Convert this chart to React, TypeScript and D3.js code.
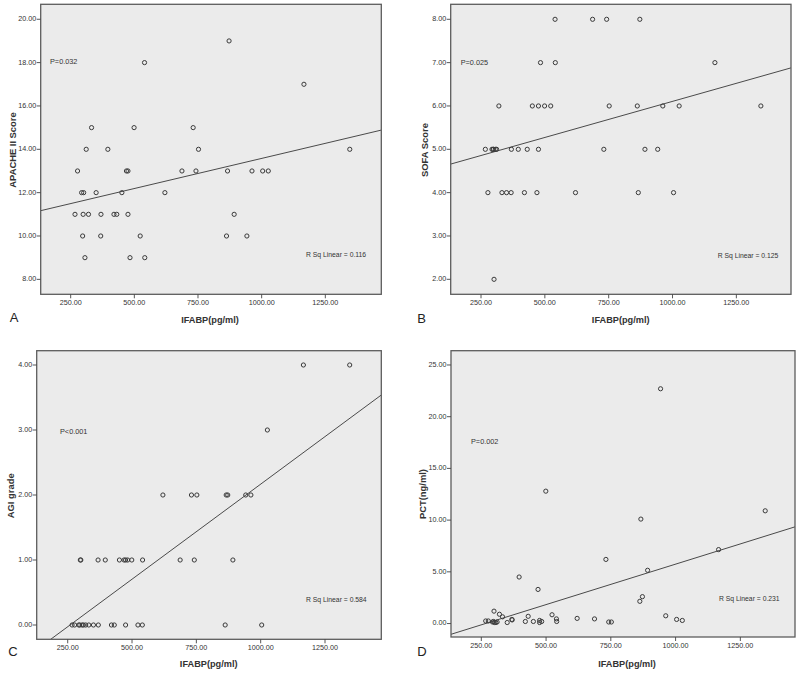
import React from "react";
import * as d3 from "d3";

// Shared predictor (IFABP, pg/ml) for 40 patients
const ifabp = [267, 277, 293, 297, 299, 301, 306, 311, 320, 332, 350, 368, 369, 396, 420, 431, 451, 469, 475, 475, 483, 499, 523, 540, 541, 620, 687, 731, 742, 752, 862, 866, 872, 892, 942, 962, 1004, 1026, 1166, 1346];
const apache = [11, 13, 12, 10, 11, 12, 9, 14, 11, 15, 12, 10, 11, 14, 11, 11, 12, 13, 13, 11, 9, 15, 10, 18, 9, 12, 13, 15, 13, 14, 10, 13, 19, 11, 10, 13, 13, 13, 17, 14];
const sofa = [5, 4, 5, 5, 5, 2, 5, 5, 6, 4, 4, 4, 5, 5, 4, 5, 6, 4, 6, 5, 7, 6, 6, 8, 7, 4, 8, 5, 8, 6, 6, 4, 8, 5, 5, 6, 4, 6, 7, 6];
const agi = [0, 0, 0, 0, 1, 1, 0, 0, 0, 0, 0, 1, 0, 1, 0, 0, 1, 1, 1, 0, 1, 1, 0, 0, 1, 2, 1, 2, 1, 2, 0, 2, 2, 1, 2, 2, 0, 3, 4, 4];
const pct = [0.25, 0.25, 0.15, 0.2, 1.2, 0.1, 0.1, 0.15, 0.9, 0.65, 0.1, 0.4, 0.35, 4.5, 0.2, 0.7, 0.2, 3.3, 0.3, 0.1, 0.2, 12.8, 0.85, 0.45, 0.2, 0.5, 0.45, 6.2, 0.15, 0.15, 2.15, 10.1, 2.6, 5.15, 22.7, 0.75, 0.4, 0.3, 7.15, 10.9];

const xTicks = [250, 500, 750, 1000, 1250];
const apacheTicks = [8, 10, 12, 14, 16, 18, 20];
const sofaTicks = [2, 3, 4, 5, 6, 7, 8];
const agiTicks = [0, 1, 2, 3, 4];
const pctTicks = [0, 5, 10, 15, 20, 25];

const panelLetters = ["A", "B", "C", "D"];
const yTitles = ["APACHE II Score", "SOFA Score", "AGI grade", "PCT(ng/ml)"];
const xTitle = "IFABP(pg/ml)";
const pTexts = ["P=0.032", "P=0.025", "P<0.001", "P=0.002"];
const rsqTexts = ["R Sq Linear = 0.116", "R Sq Linear = 0.125", "R Sq Linear = 0.584", "R Sq Linear = 0.231"];
// fitted line (intercept, slope)
const fitIntercepts = [10.8, 4.44, -0.758, -2.08];
const fitSlopes = [0.00278, 0.001666, 0.002925, 0.007824];

const seriesList = [apache, sofa, agi, pct];
const yTickList = [apacheTicks, sofaTicks, agiTicks, pctTicks];

// layout (frame rectangles and axis domains per panel)
const layout = [
  { l: 40.7, t: 4.3, r: 381.3, b: 294.3, xd: [132.3, 1469.8], yd: [7.31, 20.69], p: [50, 62.5], rs: [306, 255.5], yt: [13.5, 150], xt: [210, 320.5], let: [14, 318.5] },
  { l: 450.7, t: 4.3, r: 791, b: 294.3, xd: [131.3, 1464], yd: [1.654, 8.346], p: [460.7, 63.3], rs: [717.7, 256], yt: [426, 150], xt: [620.7, 320.5], let: [421.5, 319.5] },
  { l: 36.7, t: 350.7, r: 381.3, b: 639.3, xd: [129.5, 1468.8], yd: [-0.22, 4.22], p: [60, 431.7], rs: [306, 600], yt: [11.7, 495.8], xt: [208.7, 665], let: [13, 653] },
  { l: 451, t: 350.7, r: 795, b: 637, xd: [133, 1461], yd: [-1.3, 26.38], p: [471, 442], rs: [719, 599.3], yt: [423.3, 494], xt: [627, 665], let: [422, 653] },
];

const fmt = d3.format(".2f");
const FONT = "'Liberation Sans', Arial, sans-serif";

function Panel({ i }: { i: number }) {
  const L = layout[i];
  const x = d3.scaleLinear().domain(L.xd).range([L.l, L.r]);
  const y = d3.scaleLinear().domain(L.yd).range([L.b, L.t]);
  const ys = seriesList[i];
  const clipId = `clip-${i}`;
  const fit = (v: number) => fitIntercepts[i] + fitSlopes[i] * v;
  const lineGen = d3.line<number>().x((v) => x(v)).y((v) => y(fit(v)));
  return (
    <g>
      <defs>
        <clipPath id={clipId}>
          <rect x={L.l} y={L.t} width={L.r - L.l} height={L.b - L.t} />
        </clipPath>
      </defs>
      <rect x={L.l} y={L.t} width={L.r - L.l} height={L.b - L.t} fill="#ebebeb" stroke="none" />
      <g clipPath={`url(#${clipId})`}>
        <path d={lineGen(L.xd) || ""} stroke="#4a4a4a" strokeWidth={1} fill="none" />
        {ifabp.map((v, k) => (
          <circle key={k} cx={x(v)} cy={y(ys[k])} r={2.1} fill="none" stroke="#3a3a3a" strokeWidth={1} />
        ))}
      </g>
      <rect x={L.l} y={L.t} width={L.r - L.l} height={L.b - L.t} fill="none" stroke="#5c5c5c" strokeWidth={1.3} />
      {xTicks.map((t) => (
        <g key={t}>
          <line x1={x(t)} x2={x(t)} y1={L.b} y2={L.b + 4} stroke="#444" strokeWidth={0.9} />
          <text x={x(t)} y={L.b + 9} textAnchor="middle" dominantBaseline="middle" fontSize={7.2} fill="#333" fontFamily={FONT}>
            {fmt(t)}
          </text>
        </g>
      ))}
      {yTickList[i].map((t) => (
        <g key={t}>
          <line x1={L.l - 4} x2={L.l} y1={y(t)} y2={y(t)} stroke="#444" strokeWidth={0.9} />
          <text x={L.l - 4.5} y={y(t)} textAnchor="end" dominantBaseline="middle" fontSize={7.2} fill="#333" fontFamily={FONT}>
            {fmt(t)}
          </text>
        </g>
      ))}
      <text x={L.p[0]} y={L.p[1]} dominantBaseline="middle" fontSize={7.3} fill="#333" fontFamily={FONT}>
        {pTexts[i]}
      </text>
      <text x={L.rs[0]} y={L.rs[1]} dominantBaseline="middle" fontSize={6.8} fill="#333" fontFamily={FONT}>
        {rsqTexts[i]}
      </text>
      <text
        transform={`translate(${L.yt[0]},${L.yt[1]}) rotate(-90)`}
        textAnchor="middle"
        dominantBaseline="middle"
        fontSize={9.4}
        fontWeight="bold"
        fill="#333"
        fontFamily={FONT}
      >
        {yTitles[i]}
      </text>
      <text x={L.xt[0]} y={L.xt[1]} textAnchor="middle" dominantBaseline="middle" fontSize={9.2} fontWeight="bold" fill="#333" fontFamily={FONT}>
        {xTitle}
      </text>
      <text x={L.let[0]} y={L.let[1]} textAnchor="middle" dominantBaseline="middle" fontSize={13} fill="#222" fontFamily={FONT}>
        {panelLetters[i]}
      </text>
    </g>
  );
}

export default function App() {
  return (
    <svg width={800} height={676} style={{ position: "absolute", left: 0, top: 0, background: "#fff" }}>
      <rect x={0} y={0} width={800} height={676} fill="#fff" />
      {[0, 1, 2, 3].map((i) => (
        <Panel key={i} i={i} />
      ))}
    </svg>
  );
}
